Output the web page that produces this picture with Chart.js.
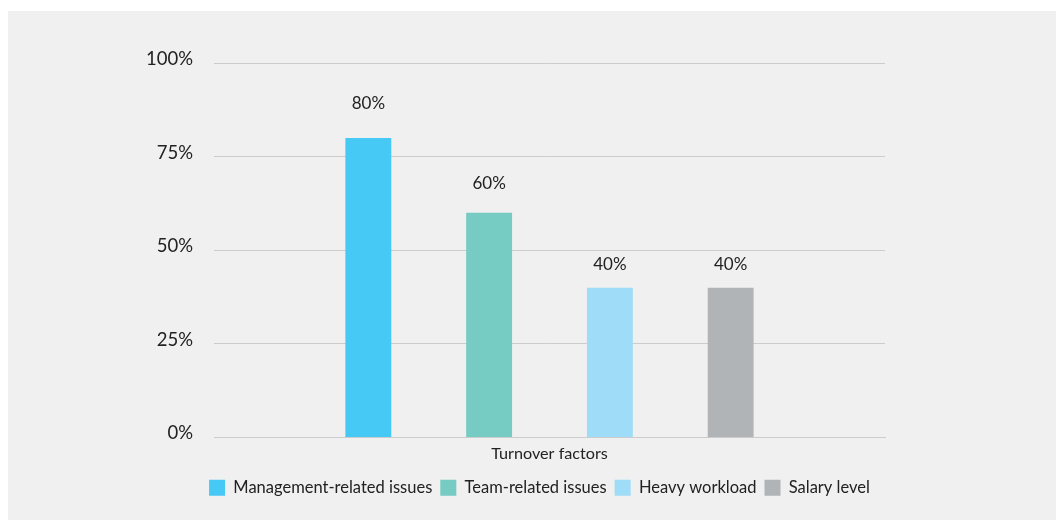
<!DOCTYPE html>
<html>
<head>
<meta charset="utf-8">
<script src="https://cdn.jsdelivr.net/npm/chart.js@4"></script>
<style>
  html, body { margin: 0; padding: 0; background: #ffffff; }
  #wrap { position: absolute; left: 8px; top: 11px; width: 1048px; height: 509px; background: #f0f0f0; }
</style>
</head>
<body>
<div id="wrap"><canvas id="turnoverChart"></canvas></div>
<script>
// Данные графика
const categories = ['Turnover factors'];
const seriesNames = ['Management-related issues', 'Team-related issues', 'Heavy workload', 'Salary level'];
const seriesValues = [80, 60, 40, 40];
const seriesColors = ['#47c9f6', '#76cbc3', '#9edcf7', '#b1b4b7'];
const yTicks = [0, 25, 50, 75, 100];

const FONT = 'Lato, "Noto Sans", sans-serif';

// Подписи значений над столбиками
const valueLabels = {
    id: 'valueLabels',
    afterDatasetsDraw(chart) {
        const ctx = chart.ctx;
        ctx.save();
        ctx.font = '17px ' + FONT;
        ctx.fillStyle = '#222222';
        ctx.textAlign = 'center';
        ctx.textBaseline = 'middle';
        chart.data.datasets.forEach((ds, i) => {
            const bar = chart.getDatasetMeta(i).data[0];
            const h = bar.base - bar.y;
            ctx.fillText(ds.data[0] + '%', bar.x, bar.y - 12 - 0.076 * h);
        });
        ctx.restore();
    }
};

// Легенда по центру под графиком (сдвигаем вправо)
const legendShift = {
    id: 'legendShift',
    afterLayout(chart) {
        chart.legend.left = 186;
        chart.legend.right = 877;
    }
};

const datasets = seriesNames.map((name, i) => ({
    label: name,
    data: [seriesValues[i]],
    backgroundColor: seriesColors[i],
    borderWidth: 0,
    categoryPercentage: 0.72,
    barPercentage: 0.38
}));

const ctx = document.getElementById('turnoverChart').getContext('2d');
new Chart(ctx, {
    type: 'bar',
    data: { labels: categories, datasets: datasets },
    options: {
        responsive: true,
        maintainAspectRatio: false,
        animation: false,
        layout: { padding: { top: 52, right: 171, bottom: 14, left: 0 } },
        plugins: {
            tooltip: { enabled: false },
            legend: {
                position: 'bottom',
                labels: {
                    boxWidth: 16,
                    boxHeight: 16,
                    padding: 8,
                    color: '#222222',
                    font: { family: FONT, size: 16.5 }
                }
            }
        },
        scales: {
            x: {
                afterFit(scale) { scale.height = 34; },
                grid: { display: false, drawTicks: false },
                border: { color: '#cccccc', width: 1 },
                ticks: { color: '#222222', padding: 7, font: { family: FONT, size: 16.2 } }
            },
            y: {
                min: 0,
                max: 100,
                afterFit(scale) { scale.width = 206; },
                afterBuildTicks(scale) { scale.ticks = yTicks.map(v => ({ value: v })); },
                grid: { color: '#cccccc', drawTicks: false },
                border: { display: false },
                ticks: {
                    padding: 21,
                    labelOffset: -4,
                    color: '#222222',
                    font: { family: FONT, size: 18.5 },
                    callback: v => v + '%'
                }
            }
        }
    },
    plugins: [valueLabels, legendShift]
});
</script>
</body>
</html>
